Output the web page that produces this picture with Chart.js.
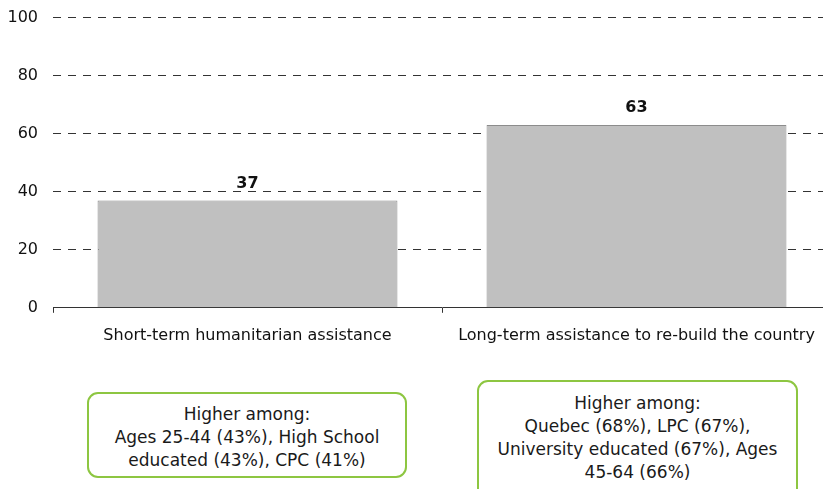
<!DOCTYPE html>
<html>
<head>
<meta charset="utf-8">
<script src="https://cdn.jsdelivr.net/npm/chart.js@4"></script>
<style>
  html, body { margin: 0; padding: 0; background: #fff; }
  body { width: 823px; height: 489px; overflow: hidden; position: relative; font-family: "DejaVu Sans", sans-serif; }
  #wrap { position: absolute; left: 0; top: -7px; width: 840px; height: 368px; }
  .box { position: absolute; box-sizing: border-box; border: 2px solid #8DC641; border-radius: 11px;
         text-align: center; font-size: 17px; line-height: 23px; color: #1a1a1a; background: #fff; }
</style>
</head>
<body>
<div id="wrap"><canvas id="c" width="840" height="368"></canvas></div>
<div class="box" id="b1" style="left:87px; top:392px; width:320px; height:86px; padding-top:9px;"></div>
<div class="box" id="b2" style="left:477px; top:380px; width:321px; height:120px; padding-top:10px;"></div>
<script>
const categories = ["Short-term humanitarian assistance", "Long-term assistance to re-build the country"];
const values = [37, 63];
const yTicks = [0, 20, 40, 60, 80, 100];
const boxTexts = [
  ["Higher among:", "Ages 25-44 (43%), High School", "educated (43%), CPC (41%)"],
  ["Higher among:", "Quebec (68%), LPC (67%),", "University educated (67%), Ages", "45-64 (66%)"]
];

document.getElementById('b1').innerHTML = boxTexts[0].join('<br>');
document.getElementById('b2').innerHTML = boxTexts[1].join('<br>');

const labelPlugin = {
  id: 'valueLabels',
  afterDatasetsDraw(chart) {
    const ctx = chart.ctx;
    const meta = chart.getDatasetMeta(0);
    ctx.save();
    ctx.font = 'bold 16px "DejaVu Sans"';
    ctx.fillStyle = '#111';
    ctx.textAlign = 'center';
    ctx.textBaseline = 'middle';
    meta.data.forEach((bar, i) => {
      ctx.fillText(String(values[i]), bar.x, bar.y - 17);
    });
    ctx.restore();
  }
};

new Chart(document.getElementById('c'), {
  type: 'bar',
  data: {
    labels: categories,
    datasets: [{
      data: values,
      backgroundColor: '#C0C0C0',
      borderColor: '#8C8C8C',
      borderWidth: 1,
      barPercentage: 0.771,
      categoryPercentage: 1.0
    }]
  },
  options: {
    responsive: false,
    animation: false,
    devicePixelRatio: 1,
    layout: { padding: { left: 8, right: 9, top: 9, bottom: 3 } },
    plugins: { legend: { display: false }, tooltip: { enabled: false } },
    scales: {
      x: {
        offset: true,
        grid: { display: true, offset: true, drawOnChartArea: false, drawTicks: true, tickLength: 5, color: '#333' },
        border: { display: true, color: '#333', width: 1 },
        ticks: { color: '#111', font: { family: 'DejaVu Sans', size: 16 }, padding: 13, maxRotation: 0, autoSkip: false }
      },
      y: {
        min: 0, max: 100,
        afterBuildTicks(scale) { scale.ticks = yTicks.map(v => ({ value: v })); },
        afterFit(scale) { scale.width = 45; },
        grid: { drawTicks: false, color: (c) => c.tick && c.tick.value === 0 ? 'rgba(0,0,0,0)' : '#333', lineWidth: 1 },
        border: { display: false, dash: [8, 7] },
        ticks: { color: '#111', font: { family: 'DejaVu Sans', size: 16 }, padding: 15 }
      }
    }
  },
  plugins: [labelPlugin]
});
</script>
</body>
</html>
